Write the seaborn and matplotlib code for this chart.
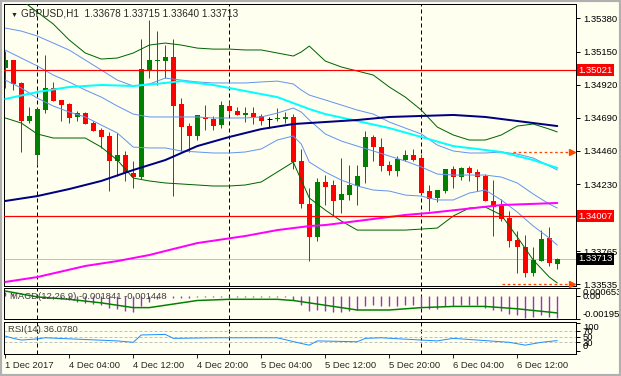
import matplotlib
matplotlib.use("Agg")
import matplotlib.pyplot as plt
from matplotlib.patches import Rectangle
import numpy as np
import pandas as pd
import seaborn as sns

# ---------------- data ----------------
open_ = [1.35036, 1.35089, 1.34932, 1.34670, 1.34434, 1.34747, 1.34897, 1.34814, 1.34784, 1.34696,
         1.34723, 1.34654, 1.34605, 1.34564, 1.34388, 1.34434, 1.34309, 1.34282, 1.35024, 1.35082,
         1.35087, 1.35112, 1.34786, 1.34633, 1.34566, 1.34696, 1.34682, 1.34642, 1.34772, 1.34735,
         1.34712, 1.34723, 1.34700, 1.34684, 1.34679, 1.34679, 1.34698, 1.34388, 1.34092, 1.33865,
         1.34245, 1.34224, 1.34122, 1.34157, 1.34219, 1.34351, 1.34557, 1.34488, 1.34363, 1.34323,
         1.34400, 1.34434, 1.34411, 1.34180, 1.34134, 1.34185, 1.34332, 1.34279, 1.34342, 1.34316,
         1.34286, 1.34115, 1.34076, 1.33995, 1.33842, 1.33794, 1.33616, 1.33699, 1.33856, 1.33678]
high = [1.35156, 1.35093, 1.34938, 1.34765, 1.34758, 1.35124, 1.34938, 1.34814, 1.34793, 1.34735,
        1.34728, 1.34670, 1.34619, 1.34592, 1.34582, 1.34457, 1.34388, 1.35237, 1.35371, 1.35295,
        1.35193, 1.35237, 1.34828, 1.34656, 1.34712, 1.34781, 1.34700, 1.34804, 1.34809, 1.34767,
        1.34765, 1.34765, 1.34716, 1.34696, 1.34758, 1.34730, 1.34716, 1.34476, 1.34203, 1.34272,
        1.34296, 1.34261, 1.34411, 1.34365, 1.34365, 1.34601, 1.34573, 1.34550, 1.34388, 1.34427,
        1.34469, 1.34474, 1.34441, 1.34226, 1.34189, 1.34332, 1.34356, 1.34346, 1.34356, 1.34332,
        1.34300, 1.34261, 1.34127, 1.34046, 1.33907, 1.33875, 1.33794, 1.33914, 1.33932, 1.33715]
low = [1.34897, 1.34885, 1.34453, 1.34654, 1.34365, 1.34723, 1.34804, 1.34670, 1.34654, 1.34666,
       1.34647, 1.34596, 1.34481, 1.34185, 1.34284, 1.34249, 1.34203, 1.34268, 1.34966, 1.34915,
       1.34966, 1.34150, 1.34462, 1.34451, 1.34538, 1.34608, 1.34608, 1.34619, 1.34707, 1.34707,
       1.34659, 1.34649, 1.34638, 1.34619, 1.34670, 1.34652, 1.34332, 1.34064, 1.33699, 1.33838,
       1.34087, 1.34013, 1.34030, 1.34122, 1.34087, 1.34240, 1.34393, 1.34323, 1.34296, 1.34289,
       1.34393, 1.34393, 1.34161, 1.34046, 1.34104, 1.34166, 1.34203, 1.34259, 1.34249, 1.34185,
       1.34115, 1.33870, 1.33972, 1.33794, 1.33613, 1.33583, 1.33590, 1.33694, 1.33659, 1.33640]
close = [1.35089, 1.34927, 1.34670, 1.34705, 1.34751, 1.34897, 1.34809, 1.34779, 1.34689, 1.34723,
         1.34649, 1.34601, 1.34559, 1.34393, 1.34434, 1.34309, 1.34282, 1.35029, 1.35089, 1.35093,
         1.35112, 1.34774, 1.34629, 1.34566, 1.34707, 1.34682, 1.34636, 1.34777, 1.34740, 1.34712,
         1.34723, 1.34693, 1.34670, 1.34684, 1.34686, 1.34698, 1.34383, 1.34092, 1.33865, 1.34245,
         1.34212, 1.34115, 1.34161, 1.34224, 1.34286, 1.34557, 1.34485, 1.34358, 1.34321, 1.34404,
         1.34434, 1.34400, 1.34168, 1.34127, 1.34189, 1.34332, 1.34282, 1.34339, 1.34307, 1.34279,
         1.34115, 1.34069, 1.33990, 1.33838, 1.33791, 1.33616, 1.33703, 1.33849, 1.33683, 1.33713]

first_bar = "2017-12-01 20:00"
session_start = "2017-12-04 00:00"

# Bollinger-type bands (read at sampled bars)
band_idx = [0, 2, 4, 6, 8, 10, 12, 14, 16, 18, 20, 22, 24, 26, 28, 30, 32, 34, 36, 37, 38,
            40, 42, 44, 46, 48, 50, 52, 54, 56, 58, 60, 62, 64, 66, 68, 69]
bb_upper = [1.35591, 1.35508, 1.35424, 1.35341, 1.35230, 1.35140, 1.35098, 1.35105, 1.35140, 1.35195,
            1.35209, 1.35195, 1.35174, 1.35167, 1.35167, 1.35161, 1.35161, 1.35140, 1.35119, 1.35147,
            1.35188, 1.35084, 1.35043, 1.35015, 1.34987, 1.34904, 1.34834, 1.34744, 1.34626, 1.34571,
            1.34536, 1.34536, 1.34571, 1.34633, 1.34647, 1.34612, 1.34592]
bb_lower = [1.34689, 1.34654, 1.34578, 1.34550, 1.34550, 1.34550, 1.34487, 1.34397, 1.34272, 1.34252,
            1.34238, 1.34231, 1.34224, 1.34217, 1.34217, 1.34224, 1.34245, 1.34314, 1.34383, 1.34258,
            1.34134, 1.34050, 1.33974, 1.33911, 1.33911, 1.33911, 1.33911, 1.33918, 1.33925, 1.34009,
            1.34064, 1.34071, 1.34016, 1.33863, 1.33703, 1.33585, 1.33544]
env_upper = [1.35313, 1.35292, 1.35258, 1.35209, 1.35160, 1.35091, 1.35022, 1.34952, 1.34911, 1.34925,
             1.34966, 1.34952, 1.34939, 1.34932, 1.34932, 1.34932, 1.34939, 1.34945, 1.34925, 1.34883,
             1.34848, 1.34814, 1.34779, 1.34744, 1.34716, 1.34661, 1.34619, 1.34578, 1.34501, 1.34460,
             1.34446, 1.34446, 1.34453, 1.34439, 1.34411, 1.34356, 1.34328]
env_mid = [1.35160, 1.35105, 1.35050, 1.34987, 1.34938, 1.34883, 1.34834, 1.34772, 1.34716, 1.34696,
           1.34696, 1.34696, 1.34696, 1.34689, 1.34689, 1.34689, 1.34696, 1.34723, 1.34758, 1.34730,
           1.34675, 1.34578, 1.34529, 1.34494, 1.34460, 1.34425, 1.34390, 1.34349, 1.34300, 1.34293,
           1.34293, 1.34293, 1.34279, 1.34238, 1.34161, 1.34092, 1.34064]
env_lower = [1.34952, 1.34897, 1.34827, 1.34772, 1.34730, 1.34696, 1.34640, 1.34585, 1.34487, 1.34481,
             1.34481, 1.34460, 1.34453, 1.34446, 1.34446, 1.34453, 1.34474, 1.34536, 1.34564, 1.34508,
             1.34383, 1.34314, 1.34258, 1.34217, 1.34189, 1.34182, 1.34154, 1.34147, 1.34120, 1.34120,
             1.34168, 1.34189, 1.34120, 1.34036, 1.33939, 1.33856, 1.33807]

cyan_idx = [0, 4, 8, 12, 16, 20, 22, 26, 30, 34, 38, 40, 44, 48, 52, 56, 60, 62, 66, 69]
cyan_ma = [1.34821, 1.34869, 1.34904, 1.34918, 1.34911, 1.34932, 1.34945, 1.34918, 1.34876, 1.34834,
           1.34751, 1.34716, 1.34668, 1.34619, 1.34557, 1.34494, 1.34467, 1.34453, 1.34397, 1.34342]
navy_idx = [0, 4, 8, 12, 16, 20, 24, 28, 32, 36, 40, 44, 48, 52, 56, 60, 64, 67, 69]
navy_ma = [1.34113, 1.34147, 1.34196, 1.34252, 1.34328, 1.34397, 1.34494, 1.34557, 1.34612, 1.34647,
           1.34661, 1.34675, 1.34696, 1.34703, 1.34710, 1.34696, 1.34668, 1.34647, 1.34633]
mag_idx = [0, 4, 10, 14, 18, 20, 24, 30, 34, 38, 40, 45, 50, 53, 62, 69]
mag_ma = [1.33551, 1.33585, 1.33662, 1.33696, 1.33738, 1.33766, 1.33821, 1.33870, 1.33911, 1.33939,
          1.33946, 1.33981, 1.34016, 1.34030, 1.34085, 1.34099]

level_lines = [1.35021, 1.34007]
bid_price = 1.33713
alert_levels = [1.34453, 1.33537]
alert_start = [63.5, 62.1]

price_ticks = [1.35380, 1.35150, 1.34920, 1.34690, 1.34460, 1.34230, 1.33765, 1.33535]

macd_hist = [0.0003, 0.0002, 0.0000, -0.0001, -0.0001, -0.0001, -0.0002, -0.0003, -0.0004, -0.0005,
             -0.0006, -0.0007, -0.0008, -0.0010, -0.0011, -0.0013, -0.0014, -0.0009, -0.0005, -0.0003,
             -0.0001, -0.0002, -0.0002, -0.0002, -0.0001, -0.0001, -0.0001, -0.0001, -0.0001, -0.0001,
             -0.0001, -0.0001, -0.0001, -0.0001, -0.0001, -0.0001, -0.0004, -0.0008, -0.0013, -0.0012,
             -0.0013, -0.0014, -0.0014, -0.0013, -0.0012, -0.0009, -0.0008, -0.0009, -0.0009, -0.0009,
             -0.0008, -0.0008, -0.0010, -0.0011, -0.0011, -0.0009, -0.0009, -0.0008, -0.0008, -0.0008,
             -0.0010, -0.0012, -0.0013, -0.0015, -0.0016, -0.0019, -0.0018, -0.0016, -0.0018, -0.001841]
sig_idx = [0, 4, 8, 12, 16, 18, 20, 24, 28, 34, 36, 40, 44, 48, 52, 56, 60, 64, 69]
macd_signal = [0.0004, -0.0001, -0.0003, -0.0006, -0.0010, -0.0010, -0.0008, -0.0004, -0.0003, -0.0003,
               -0.0004, -0.0008, -0.0012, -0.0012, -0.0010, -0.0009, -0.0009, -0.0011, -0.001448]
macd_max, macd_min = 0.000653, -0.001959
rsi_idx = [0, 1, 2, 4, 5, 14, 16, 17, 20, 21, 26, 34, 37, 38, 39, 44, 45, 47, 52, 54, 56, 63, 65, 67, 69]
rsi_vals = [52, 44, 38, 42, 46, 35, 30, 56, 58, 44, 46, 46, 26, 20, 35, 32, 44, 46, 38, 35, 44, 30, 20,
            30, 36.078]
rsi_levels = [30, 50, 70]

# ---------------- style ----------------
BG = "#FFFFF0"
BULL = "#008000"
BEAR = "#FF0000"
W, H = 621, 376
PX = 0.72  # one pixel in points at 100 dpi

sns.set_style("white")
plt.rcParams['font.family'] = ['Liberation Sans', 'DejaVu Sans']
FS = 6.8

fig = plt.figure(figsize=(W / 100, H / 100), dpi=100, facecolor=BG)


def px_axes(x0, y0, x1, y1):
    a = fig.add_axes([x0 / W, 1 - y1 / H, (x1 - x0) / W, (y1 - y0) / H])
    a.set_facecolor(BG)
    for s in a.spines.values():
        s.set_color("black")
        s.set_linewidth(PX)
    return a


ax = px_axes(4, 4, 576, 286)
axm = px_axes(4, 288, 576, 319)
axr = px_axes(4, 322, 576, 354)

n = len(close)
x = np.arange(n)
o, h, l, c = map(np.array, (open_, high, low, close))
cols = np.where(c > o, BULL, np.where(c < o, BEAR, "black"))
ax.vlines(x, l, h, colors=cols, lw=PX, zorder=2)
ax.bar(x, np.abs(c - o), bottom=np.minimum(o, c), width=0.62, color=cols, linewidth=0, zorder=2)
doji = c == o
ax.hlines(c[doji], x[doji] - 0.31, x[doji] + 0.31, colors="black", lw=PX, zorder=2)


def sline(a, xs, ys, color, lw, z=3):
    sns.lineplot(x=xs, y=ys, ax=a, color=color, linewidth=lw, legend=False, estimator=None, zorder=z)


sline(ax, band_idx, bb_upper, "#006400", PX)
sline(ax, band_idx, bb_lower, "#006400", PX)
sline(ax, band_idx, env_upper, "#6495ED", PX)
sline(ax, band_idx, env_mid, "#6495ED", PX)
sline(ax, band_idx, env_lower, "#6495ED", PX)
sline(ax, cyan_idx, cyan_ma, "#00FFFF", 2 * PX)
sline(ax, navy_idx, navy_ma, "#000080", 2 * PX)
sline(ax, mag_idx, mag_ma, "#FF00FF", 2 * PX)

for lv in level_lines:
    ax.axhline(lv, color="#FF0000", lw=PX * 1.2, zorder=4)
ax.axhline(bid_price, color="#C0C0C0", lw=PX, zorder=1)
for lv, st in zip(alert_levels, alert_start):
    ax.plot([st, n + 0.6], [lv, lv], color="#FF4500", lw=PX * 1.3, ls=(0, (2, 2)), zorder=4)
    ax.plot([n + 0.9], [lv], marker=">", color="#FF4500", ms=4, clip_on=False, zorder=5)

times = pd.DatetimeIndex(list(pd.date_range(first_bar, periods=4, freq="h")) +
                         list(pd.date_range(session_start, periods=n - 4, freq="h")))
day_sep = [i for i, t in enumerate(times) if t.hour == 0]

xlim = (-0.16, 71.34)
for a in (ax, axm, axr):
    a.set_xlim(*xlim)
    for d in day_sep:
        a.axvline(d, color="black", lw=PX, ls=(0, (4, 3)), zorder=1)
    a.tick_params(axis="y", which="both", left=False, right=True, labelleft=False, labelright=True,
                  direction="out", length=3, width=PX, pad=2, labelsize=FS, colors="black")
    a.tick_params(axis="x", bottom=False, labelbottom=False)

ax.set_ylim(1.33523, 1.35480)
ax.set_yticks(price_ticks)
ax.set_yticklabels([f"{v:.5f}" for v in price_ticks])

ytr = ax.get_yaxis_transform()
for lv in level_lines:
    ax.text(1.004, lv, f"{lv:.5f}", transform=ytr, fontsize=FS, color="white", va="center", ha="left",
            bbox=dict(boxstyle="square,pad=0.15", fc="#FF0000", ec="none"), zorder=6, clip_on=False)
ax.text(1.004, bid_price, f"{bid_price:.5f}", transform=ytr, fontsize=FS, color="white", va="center",
        ha="left", bbox=dict(boxstyle="square,pad=0.15", fc="black", ec="none"), zorder=6, clip_on=False)

ax.text(0.011, 0.972, "\u25BC", transform=ax.transAxes, fontsize=5, va="top", ha="left")
ax.text(0.029, 0.985, "GBPUSD,H1  %.5f %.5f %.5f %.5f" % (open_[-1], high[-1], low[-1], close[-1]),
        transform=ax.transAxes, fontsize=FS + 0.4, va="top", ha="left")

# MACD
axm.vlines(x, 0, macd_hist, colors="#9932CC", lw=1.0, zorder=2)
sline(axm, sig_idx, macd_signal, "#008000", 1.5 * PX)
axm.set_ylim(macd_min, macd_max)
axm.set_yticks([macd_max, 0.0, macd_min])
axm.set_yticklabels(["0.000653", "0.00", "-0.001959"])
mlabs = axm.get_yticklabels()
mlabs[0].set_va("top")
mlabs[2].set_va("bottom")
axm.text(0.01, 0.88, "MACD(12,26,9) %.6f %.6f" % (macd_hist[-1], macd_signal[-1]), transform=axm.transAxes,
         fontsize=FS, va="top", ha="left", color="#404040")

# RSI
sline(axr, rsi_idx, rsi_vals, "#1E90FF", PX)
for lv in rsi_levels:
    axr.axhline(lv, color="#C0C0C0", lw=PX, ls=(0, (3, 2)), zorder=1)
axr.set_ylim(-11.3, 101.8)
axr.set_yticks([100, 70, 50, 30, 0])
axr.set_yticklabels(["100", "70", "50", "30", "0"])
rlabs = axr.get_yticklabels()
rlabs[0].set_va("top")
rlabs[4].set_va("bottom")
axr.text(0.007, 0.9, "RSI(14) %.4f" % rsi_vals[-1], transform=axr.transAxes, fontsize=FS, va="top",
         ha="left", color="#404040")

tick_pos = list(range(0, n, 8))
labels = []
for i in tick_pos:
    t = times[i]
    labels.append("1 Dec 2017" if i == 0 else f"{t.day} {t.strftime('%b')} {t.strftime('%H:%M')}")
axr.set_xticks(tick_pos)
axr.set_xticklabels(labels)
axr.tick_params(axis="x", bottom=True, labelbottom=True, direction="out", length=3, width=PX,
                labelsize=FS, pad=2)
for lab in axr.get_xticklabels():
    lab.set_ha("left")

fig.patches.append(Rectangle((0, 0), 1, 1, transform=fig.transFigure, fill=False, ec="#B0B0B0", lw=3))

fig.savefig("out.png", dpi=100, facecolor=BG)
